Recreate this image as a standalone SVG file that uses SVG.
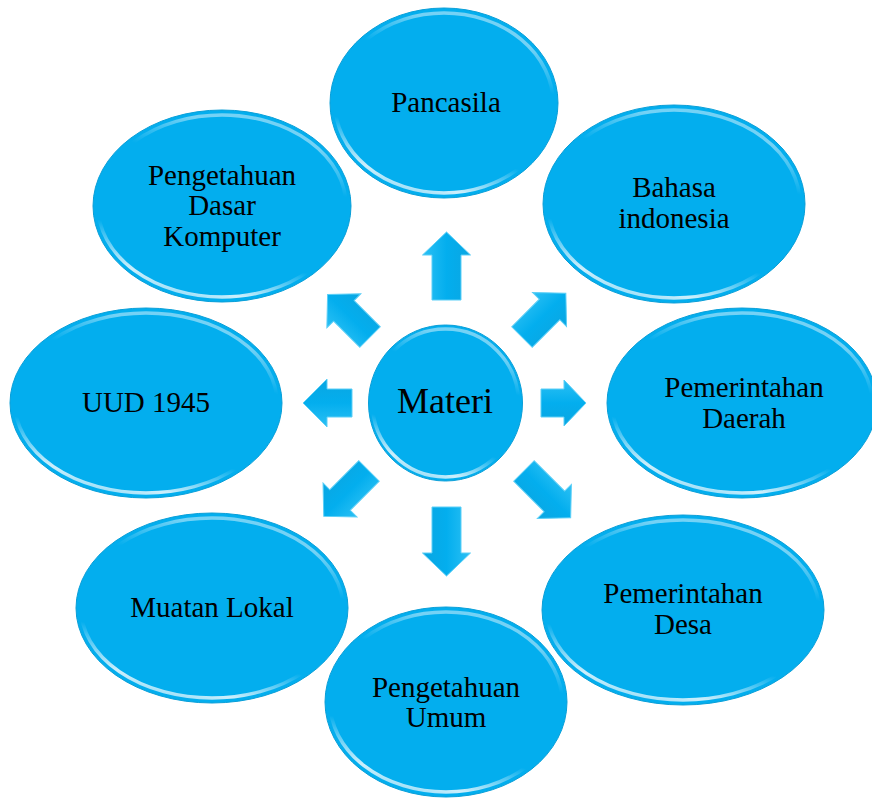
<svg xmlns="http://www.w3.org/2000/svg" width="872" height="798" viewBox="0 0 872 798">
  <defs>
    <linearGradient id="shine" x1="0.35" y1="0" x2="0" y2="1">
      <stop offset="0" stop-color="#ffffff" stop-opacity="0.45"/>
      <stop offset="0.2" stop-color="#ffffff" stop-opacity="0"/>
      <stop offset="0.62" stop-color="#ffffff" stop-opacity="0"/>
      <stop offset="0.82" stop-color="#ffffff" stop-opacity="0.8"/>
      <stop offset="1" stop-color="#ffffff" stop-opacity="0.3"/>
    </linearGradient>
    <linearGradient id="arrowFill" x1="0" y1="0" x2="0" y2="1">
      <stop offset="0" stop-color="#2cc0f4"/>
      <stop offset="0.5" stop-color="#03aeee"/>
      <stop offset="1" stop-color="#0aa6e2"/>
    </linearGradient>
  </defs>
  <style>
    .bubble { fill: #03aeee; stroke: #0a9fd8; stroke-width: 1; }
    .gloss { fill: none; stroke: url(#shine); stroke-width: 3.5; }
    .label { font-family: "Liberation Serif", "Times New Roman", serif; font-size: 29px; fill: #000; text-anchor: middle; }
    .center-label { font-family: "Liberation Serif", "Times New Roman", serif; font-size: 36px; fill: #000; text-anchor: middle; }
    .arrow { fill: url(#arrowFill); stroke: #5ccff7; stroke-width: 1; stroke-linejoin: miter; }
  </style>
  <rect width="872" height="798" fill="#ffffff"/>

  <g id="node-pancasila">
    <ellipse class="bubble" cx="444" cy="103" rx="114" ry="95"/>
    <ellipse class="gloss" cx="444" cy="103" rx="109" ry="90"/>
    <text class="label" x="446" y="112">Pancasila</text>
  </g>
  <g id="node-bahasa">
    <ellipse class="bubble" cx="674" cy="204" rx="131" ry="99"/>
    <ellipse class="gloss" cx="674" cy="204" rx="126" ry="94"/>
    <text class="label" x="674" y="197">Bahasa</text>
    <text class="label" x="674" y="228">indonesia</text>
  </g>
  <g id="node-daerah">
    <ellipse class="bubble" cx="742" cy="403" rx="135" ry="95"/>
    <ellipse class="gloss" cx="742" cy="403" rx="130" ry="90"/>
    <text class="label" x="744" y="397">Pemerintahan</text>
    <text class="label" x="744" y="428">Daerah</text>
  </g>
  <g id="node-desa">
    <ellipse class="bubble" cx="683" cy="610" rx="141" ry="95"/>
    <ellipse class="gloss" cx="683" cy="610" rx="136" ry="90"/>
    <text class="label" x="683" y="603">Pemerintahan</text>
    <text class="label" x="683" y="634">Desa</text>
  </g>
  <g id="node-umum">
    <ellipse class="bubble" cx="446" cy="702" rx="121" ry="95"/>
    <ellipse class="gloss" cx="446" cy="702" rx="116" ry="90"/>
    <text class="label" x="446" y="697">Pengetahuan</text>
    <text class="label" x="446" y="727">Umum</text>
  </g>
  <g id="node-muatan">
    <ellipse class="bubble" cx="212" cy="608" rx="136" ry="95"/>
    <ellipse class="gloss" cx="212" cy="608" rx="131" ry="90"/>
    <text class="label" x="212" y="617">Muatan Lokal</text>
  </g>
  <g id="node-uud">
    <ellipse class="bubble" cx="146" cy="403" rx="136" ry="95"/>
    <ellipse class="gloss" cx="146" cy="403" rx="131" ry="90"/>
    <text class="label" x="146" y="412">UUD 1945</text>
  </g>
  <g id="node-komputer">
    <ellipse class="bubble" cx="222" cy="206" rx="129" ry="96"/>
    <ellipse class="gloss" cx="222" cy="206" rx="124" ry="91"/>
    <text class="label" x="222" y="185">Pengetahuan</text>
    <text class="label" x="222" y="215">Dasar</text>
    <text class="label" x="222" y="246">Komputer</text>
  </g>
  <g id="node-materi">
    <ellipse class="bubble" cx="445.5" cy="403" rx="77" ry="78"/>
    <ellipse class="gloss" cx="445.5" cy="403" rx="73" ry="74"/>
    <text class="center-label" x="445" y="413">Materi</text>
  </g>

  <g id="connectors">
    <path class="arrow" transform="translate(446.5,300) rotate(-90)" d="M0,-14.5 H45 V-24 L68,0 L45,24 V14.5 H0 Z"/>
    <path class="arrow" transform="translate(446.5,507) rotate(90)" d="M0,-14.5 H46 V-24 L69,0 L46,24 V14.5 H0 Z"/>
    <path class="arrow" transform="translate(352,403) rotate(180)" d="M0,-14 H25 V-24 L49,0 L25,24 V14 H0 Z"/>
    <path class="arrow" transform="translate(541,403)" d="M0,-14 H23 V-23 L45,0 L23,23 V14 H0 Z"/>
    <path class="arrow" transform="translate(370,337) rotate(-135)" d="M0,-14.5 H37 V-24 L60,0 L37,24 V14.5 H0 Z"/>
    <path class="arrow" transform="translate(522,337) rotate(-45)" d="M0,-14.5 H39 V-24 L62,0 L39,24 V14.5 H0 Z"/>
    <path class="arrow" transform="translate(369,471) rotate(135)" d="M0,-14.5 H41 V-24 L64,0 L41,24 V14.5 H0 Z"/>
    <path class="arrow" transform="translate(524,471) rotate(45)" d="M0,-14.5 H43 V-24 L66,0 L43,24 V14.5 H0 Z"/>
  </g>
</svg>
